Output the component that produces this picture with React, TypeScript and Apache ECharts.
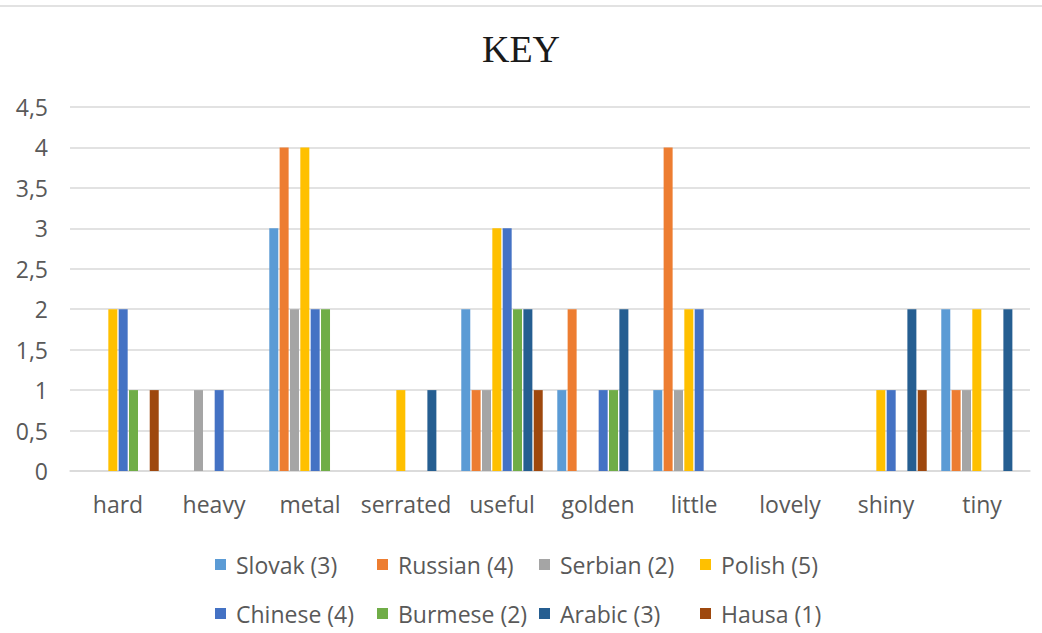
import React, { useEffect, useRef } from "react";
import * as echarts from "echarts";

// Adjectives on the x axis
const categories = ["hard", "heavy", "metal", "serrated", "useful", "golden", "little", "lovely", "shiny", "tiny"];

// Counts per language group (order follows the categories)
const slovak = [0, 0, 3, 0, 2, 1, 1, 0, 0, 2];
const russian = [0, 0, 4, 0, 1, 2, 4, 0, 0, 1];
const serbian = [0, 1, 2, 0, 1, 0, 1, 0, 0, 1];
const polish = [2, 0, 4, 1, 3, 0, 2, 0, 1, 2];
const chinese = [2, 1, 2, 0, 3, 1, 2, 0, 1, 0];
const burmese = [1, 0, 2, 0, 2, 1, 0, 0, 0, 0];
const arabic = [0, 0, 0, 1, 2, 2, 0, 0, 2, 2];
const hausa = [1, 0, 0, 0, 1, 0, 0, 0, 1, 0];

const seriesNames = [
  "Slovak (3)", "Russian (4)", "Serbian (2)", "Polish (5)",
  "Chinese (4)", "Burmese (2)", "Arabic (3)", "Hausa (1)",
];
const seriesData = [slovak, russian, serbian, polish, chinese, burmese, arabic, hausa];
const seriesColors = ["#5B9BD5", "#ED7D31", "#A5A5A5", "#FFC000", "#4472C4", "#70AD47", "#255E91", "#9E480E"];

const labelFont = "'Open Sans', 'DejaVu Sans', sans-serif";
const labelColor = "#595959";

// Legend laid out as a 4 x 2 table: column x positions and row tops
const legendCols = [210, 372, 534, 695];
const legendRows = [548, 597];

export default function App() {
  const ref = useRef<HTMLDivElement>(null);

  useEffect(() => {
    if (!ref.current) return;
    const chart = echarts.init(ref.current, undefined, { renderer: "svg" });

    const legends = seriesNames.map((name, i) => ({
      left: legendCols[i % 4],
      top: legendRows[Math.floor(i / 4)],
      orient: "horizontal" as const,
      itemWidth: 11,
      itemHeight: 11,
      icon: "rect",
      data: [name],
      textStyle: {
        fontFamily: labelFont,
        fontSize: 23,
        color: labelColor,
        padding: [0, 0, 0, 5],
      },
    }));

    chart.setOption({
      animation: false,
      backgroundColor: "#ffffff",
      title: {
        text: "KEY",
        left: "center",
        top: 25,
        textStyle: {
          fontFamily: "'Liberation Serif', 'DejaVu Serif', serif",
          fontSize: 38,
          fontWeight: "normal",
          color: "#1a1a1a",
        },
      },
      graphic: [
        {
          type: "line",
          shape: { x1: 0, y1: 6, x2: 1042, y2: 6 },
          style: { stroke: "#D9D9D9", lineWidth: 1.5 },
          silent: true,
        },
      ],
      legend: legends,
      grid: { left: 70, right: 12, top: 107, bottom: 162, containLabel: false },
      xAxis: {
        type: "category",
        data: categories,
        axisLine: { show: true, lineStyle: { color: "#D9D9D9", width: 1.5 } },
        axisTick: { show: false },
        axisLabel: {
          interval: 0,
          fontFamily: labelFont,
          fontSize: 23,
          color: labelColor,
          margin: 21,
        },
      },
      yAxis: {
        type: "value",
        min: 0,
        max: 4.5,
        interval: 0.5,
        axisLine: { show: false },
        axisTick: { show: false },
        splitLine: { lineStyle: { color: "#D9D9D9", width: 1.5 } },
        axisLabel: {
          fontFamily: labelFont,
          fontSize: 23,
          color: labelColor,
          margin: 22,
          formatter: (v: number) => String(v).replace(".", ","),
        },
      },
      series: seriesNames.map((name, i) => ({
        name,
        type: "bar",
        data: seriesData[i],
        barWidth: 9,
        barGap: "15%",
        itemStyle: { color: seriesColors[i] },
      })),
    });

    return () => chart.dispose();
  }, []);

  return (
    <div
      ref={ref}
      style={{ position: "absolute", left: 0, top: 0, width: 1042, height: 633 }}
    />
  );
}
